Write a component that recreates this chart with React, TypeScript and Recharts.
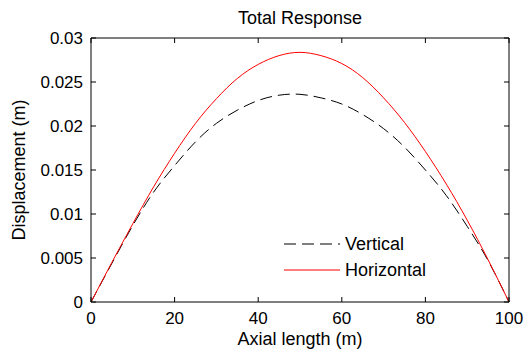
import React from "react"
import { Label, Legend, Line, LineChart, XAxis, YAxis } from "recharts"

const positions = [0, 5, 10, 15, 20, 25, 30, 35, 40, 45, 50, 55, 60, 65, 70, 75, 80, 85, 90, 95, 100]
const vertical = [
  0, 0.0044, 0.0087, 0.0125, 0.0155, 0.0182, 0.0203, 0.0218, 0.0229, 0.0235, 0.0236,
  0.0232, 0.0225, 0.0213, 0.0197, 0.0176, 0.015, 0.0121, 0.0086, 0.0047, 0,
]
const horizontal = [
  0, 0.0045, 0.0089, 0.0131, 0.0169, 0.0203, 0.0231, 0.0254, 0.027, 0.028, 0.02837,
  0.028, 0.0271, 0.0255, 0.0232, 0.0204, 0.0171, 0.0134, 0.0093, 0.0048, 0,
]
const seriesNames = ["Vertical", "Horizontal"]
const xTicks = [0, 20, 40, 60, 80, 100]
const yTicks = [0, 0.005, 0.01, 0.015, 0.02, 0.025, 0.03]

const data = positions.map((x, i) => ({ x, Vertical: vertical[i], Horizontal: horizontal[i] }))

const font = "'Liberation Sans', Arial, sans-serif"
const labelStyle = { fill: "#000", fontSize: 18, fontFamily: font }

// tick label plus an inward tick mark (matlab style)
function BottomTick({ x, y, payload }: any) {
  return (
    <g>
      <line x1={x} y1={y - 10} x2={x} y2={y - 15} stroke="#000" />
      <text x={x} y={y} dy="0.71em" textAnchor="middle" fill="#000" fontSize={17} fontFamily={font}>
        {payload.value}
      </text>
    </g>
  )
}

function LeftTick({ x, y, payload }: any) {
  return (
    <g>
      <line x1={x + 8} y1={y} x2={x + 13} y2={y} stroke="#000" />
      <text x={x} y={y} dy="0.355em" textAnchor="end" fill="#000" fontSize={17} fontFamily={font}>
        {payload.value}
      </text>
    </g>
  )
}

function TopTick({ x, y }: any) {
  return <line x1={x} y1={y} x2={x} y2={y + 5} stroke="#000" />
}

function RightTick({ x, y }: any) {
  return <line x1={x - 5} y1={y} x2={x} y2={y} stroke="#000" />
}

function LegendBox({ payload }: any) {
  const items = [...(payload || [])].sort(
    (a: any, b: any) => seriesNames.indexOf(a.value) - seriesNames.indexOf(b.value)
  )
  return (
    <div style={{ fontFamily: font, fontSize: 18, color: "#000" }}>
      {items.map((p: any) => (
        <div key={p.value} style={{ display: "flex", alignItems: "center", height: 26 }}>
          <svg width={58} height={10} style={{ marginRight: 3 }}>
            <line
              x1={0}
              y1={5}
              x2={56}
              y2={5}
              stroke={p.color}
              strokeWidth={1}
              strokeDasharray={p.payload?.strokeDasharray}
            />
          </svg>
          <span>{p.value}</span>
        </div>
      ))}
    </div>
  )
}

export default function App() {
  return (
    <div style={{ position: "absolute", left: 0, top: 0, background: "#fff" }}>
      <LineChart width={525} height={356} data={data} margin={{ top: 38, right: 16, bottom: 0, left: 0 }}>
        <XAxis
          dataKey="x"
          type="number"
          domain={[0, 100]}
          ticks={xTicks}
          interval={0}
          height={54}
          tickSize={0}
          tickMargin={10}
          tickLine={false}
          tick={<BottomTick />}
          stroke="#000"
        >
          <Label value="Axial length (m)" position="insideBottom" offset={11} style={labelStyle} />
        </XAxis>
        <XAxis
          xAxisId="top"
          orientation="top"
          dataKey="x"
          type="number"
          domain={[0, 100]}
          ticks={xTicks}
          interval={0}
          height={0.001}
          mirror
          tickSize={0}
          tickMargin={0}
          tickLine={false}
          tick={<TopTick />}
          stroke="#000"
        >
          <Label value="Total Response" position="top" offset={14} style={labelStyle} />
        </XAxis>
        <YAxis
          type="number"
          domain={[0, 0.03]}
          ticks={yTicks}
          interval={0}
          width={91}
          tickSize={0}
          tickMargin={8}
          tickLine={false}
          tick={<LeftTick />}
          stroke="#000"
        >
          <Label
            value="Displacement (m)"
            angle={-90}
            position="insideLeft"
            offset={19}
            style={{ ...labelStyle, textAnchor: "middle" }}
          />
        </YAxis>
        <YAxis
          yAxisId="right"
          orientation="right"
          type="number"
          domain={[0, 0.03]}
          ticks={yTicks}
          interval={0}
          width={0.001}
          mirror
          tickSize={0}
          tickMargin={0}
          tickLine={false}
          tick={<RightTick />}
          stroke="#000"
        />
        <Legend
          layout="vertical"
          align="center"
          verticalAlign="middle"
          content={<LegendBox />}
          wrapperStyle={{ position: "absolute", left: 284, top: 231, width: 170 }}
        />
        <Line
          dataKey="Vertical"
          type="natural"
          stroke="#000"
          strokeWidth={1}
          strokeDasharray="12 6"
          dot={false}
          activeDot={false}
          isAnimationActive={false}
        />
        <Line
          dataKey="Horizontal"
          xAxisId="top"
          yAxisId="right"
          type="natural"
          stroke="#ff0000"
          strokeWidth={1}
          dot={false}
          activeDot={false}
          isAnimationActive={false}
        />
      </LineChart>
    </div>
  )
}
